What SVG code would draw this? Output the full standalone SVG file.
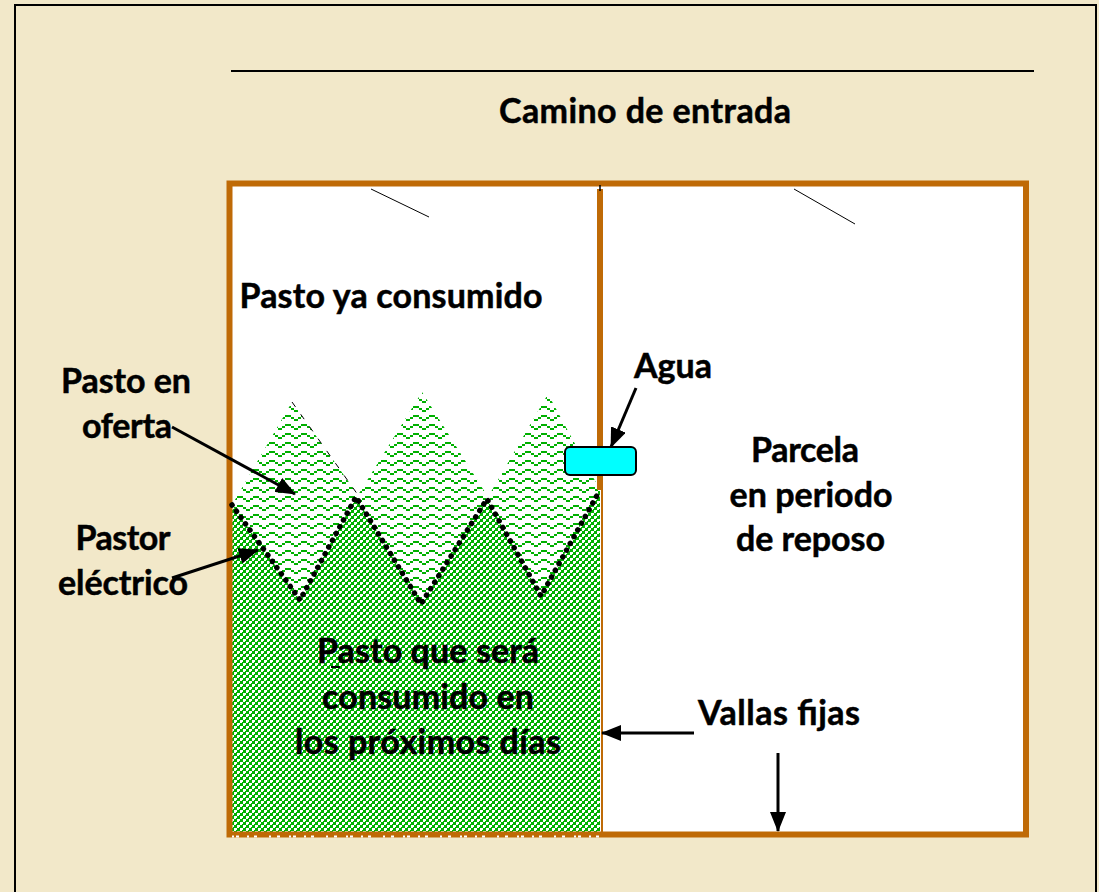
<svg xmlns="http://www.w3.org/2000/svg" width="1099" height="892" viewBox="0 0 1099 892">
<style>
.t{font-family:"Lato","Carlito","Liberation Sans",sans-serif;font-weight:700;font-size:34px;fill:#000;stroke:#000;stroke-width:0.5;text-anchor:middle}
.c{stroke:#000;fill:none;stroke-width:3}
.f{fill:none;stroke:#bf6a06;stroke-width:6}
</style>
<defs>
<pattern id="check" width="6" height="6" patternUnits="userSpaceOnUse">
<rect width="6" height="6" fill="#00b000"/>
<path fill="#fff" shape-rendering="crispEdges" d="M0 0h3v2h-1v1h-2zM3 3h3v2h-1v1h-2z"/>
</pattern>
<pattern id="wave" width="16" height="9" patternUnits="userSpaceOnUse">
<rect width="16" height="9" fill="#fff"/>
<path fill="#00b000" shape-rendering="crispEdges" d="M0 1h3v2h3v2h4v-2h3v-2h3v2h-3v2h-3v2h-4v-2h-3v-2h-3z"/>
</pattern>
<marker id="b" viewBox="0 0 10 10" refX="9.5" refY="5" markerWidth="20" markerHeight="16" orient="auto" markerUnits="userSpaceOnUse" preserveAspectRatio="none">
<path d="M0 0L10 5L0 10z"/>
</marker>
</defs>
<rect width="1099" height="892" fill="#f2e8c9"/>
<path d="M15 892V5H1096V892" fill="none" stroke="#000" stroke-width="2"/>
<line x1="231" y1="71" x2="1034" y2="71" stroke="#000" stroke-width="2"/>
<g id="parcela-blanca"><rect x="230" y="184" width="796" height="650" fill="#fff"/></g>
<g id="pasto-oferta"><polygon points="232,505 292,402 358,495 422,392 488,497 548,394 600,490 600,500 541,596 487,499 421,604 356,497 300,600" fill="url(#wave)"/></g>
<g id="pasto-futuro"><polygon points="232,505 300,600 356,497 421,604 487,499 541,596 600,490 600,833 232,833" fill="url(#check)"/></g>
<g id="vallas">
<rect class="f" x="229.5" y="183.5" width="796.5" height="651"/>
<line class="f" x1="600" y1="189" x2="600" y2="490"/>
<line x1="602" y1="490" x2="602" y2="832" stroke="#bf6a06" stroke-width="2"/>
<line x1="232" y1="836.5" x2="600" y2="836.5" stroke="#fff" stroke-width="2" stroke-dasharray="2 2 3 8 2 5 3 12 2 6 3 9"/>
</g>
<g id="agua"><rect x="565" y="447" width="71" height="28" rx="5" fill="#0ff" stroke="#000" stroke-width="2"/></g>
<g id="connectors">
<line x1="371" y1="189" x2="429" y2="217" stroke="#000" stroke-width="1"/>
<line x1="794" y1="189" x2="855" y2="224" stroke="#000" stroke-width="1"/>
<line x1="600" y1="185" x2="600" y2="191" stroke="#000" stroke-width="1.5"/>
<line x1="292" y1="402" x2="358" y2="495" stroke="#000" stroke-width="1" stroke-dasharray="6 9"/>
<polyline points="232,505 300,600 356,497 421,604 487,499 541,596 600,490" fill="none" stroke="#000" stroke-width="5.5" stroke-linecap="round" stroke-dasharray="0.1 7.6"/>
<line class="c" x1="172" y1="427" x2="295" y2="494" marker-end="url(#b)"/>
<line class="c" x1="172" y1="578" x2="258" y2="550" marker-end="url(#b)"/>
<line class="c" x1="636" y1="388" x2="611" y2="447" marker-end="url(#b)"/>
<line class="c" x1="694" y1="733" x2="602" y2="733" marker-end="url(#b)"/>
<line class="c" x1="778" y1="753" x2="778" y2="831" marker-end="url(#b)"/>
<line x1="331" y1="667" x2="340" y2="667" stroke="#000" stroke-width="2"/>
</g>
<g id="labels">
<text class="t" x="645" y="123" textLength="292">Camino de entrada</text>
<text class="t" x="391" y="308" textLength="303">Pasto ya consumido</text>
<text class="t" x="126" y="393" textLength="130">Pasto en</text>
<text class="t" x="127" y="438" textLength="90">oferta</text>
<text class="t" x="123" y="550" textLength="95">Pastor</text>
<text class="t" x="123" y="595" textLength="130">eléctrico</text>
<text class="t" x="673" y="378" textLength="78">Agua</text>
<text class="t" x="805" y="462" textLength="108">Parcela</text>
<text class="t" x="811" y="507" textLength="163">en periodo</text>
<text class="t" x="810.5" y="551" textLength="149">de reposo</text>
<text class="t" x="428" y="663" textLength="222">Pasto que será</text>
<text class="t" x="428" y="709" textLength="212">consumido en</text>
<text class="t" x="428" y="754" textLength="266">los próximos días</text>
<text class="t" x="779" y="725" textLength="162">Vallas fijas</text>
</g>
</svg>
